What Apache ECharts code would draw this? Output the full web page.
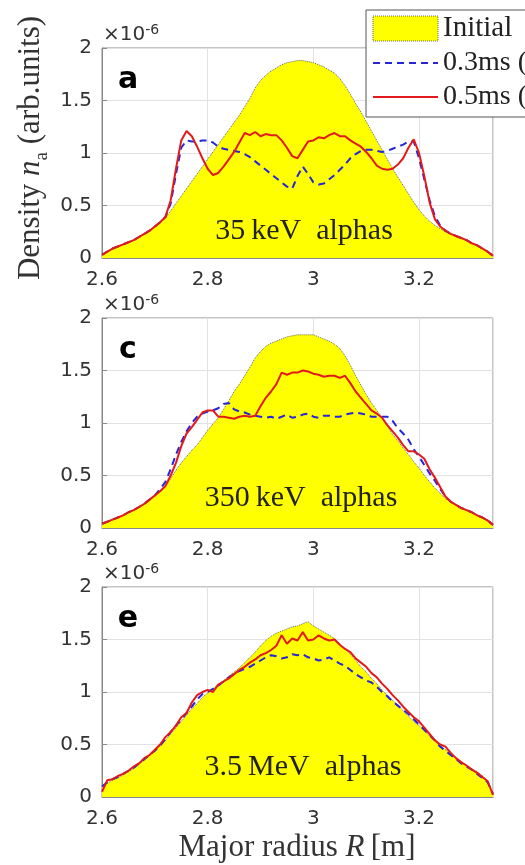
<!DOCTYPE html>
<html>
<head>
<meta charset="utf-8">
<script src="https://cdn.jsdelivr.net/npm/echarts@6/dist/echarts.min.js"></script>
<style>
  html, body { margin: 0; padding: 0; background: #fff; }
  #chart { width: 525px; height: 865px; }
</style>
</head>
<body>
<div id="chart"></div>
<script>
// major radius grid (m)
const R = [2.60, 2.61, 2.62, 2.63, 2.64, 2.65, 2.66, 2.67, 2.68, 2.69, 2.70, 2.71, 2.72,
  2.73, 2.74, 2.75, 2.76, 2.77, 2.78, 2.79, 2.80, 2.81, 2.82,
  2.83, 2.84, 2.85, 2.86, 2.87, 2.88, 2.89, 2.90, 2.91, 2.92,
  2.93, 2.94, 2.95, 2.96, 2.97, 2.98, 2.99, 3.00, 3.01, 3.02,
  3.03, 3.04, 3.05, 3.06, 3.07, 3.08, 3.09, 3.10, 3.11, 3.12,
  3.13, 3.14, 3.15, 3.16, 3.17, 3.18, 3.19, 3.20, 3.21, 3.22,
  3.23, 3.24, 3.25, 3.26, 3.27, 3.28, 3.29, 3.30, 3.31, 3.32, 3.33, 3.34]

// densities in units of 1e-6
// panel a : 35 keV
const initA = [0.03, 0.06, 0.09, 0.11, 0.13, 0.15, 0.17, 0.20, 0.23, 0.26, 0.30, 0.34, 0.38,
  0.45, 0.52, 0.59, 0.66, 0.73, 0.80, 0.87, 0.94, 1.01, 1.08,
  1.15, 1.22, 1.29, 1.36, 1.44, 1.52, 1.62, 1.69, 1.74, 1.78,
  1.81, 1.84, 1.86, 1.87, 1.88, 1.88, 1.87, 1.86, 1.84, 1.82,
  1.79, 1.76, 1.71, 1.64, 1.56, 1.47, 1.39, 1.30, 1.21, 1.12,
  1.03, 0.94, 0.85, 0.77, 0.69, 0.61, 0.53, 0.46, 0.40, 0.35,
  0.31, 0.28, 0.25, 0.23, 0.21, 0.19, 0.17, 0.14, 0.12, 0.09, 0.06, 0.03]
const t03A = [0.03, 0.06, 0.09, 0.11, 0.13, 0.15, 0.17, 0.20, 0.23, 0.26, 0.30, 0.34, 0.39,
  0.52, 0.80, 1.05, 1.12, 1.11, 1.11, 1.12, 1.12, 1.10, 1.06,
  1.04, 1.03, 1.02, 1.01, 0.99, 0.96, 0.92, 0.88, 0.84, 0.80,
  0.76, 0.72, 0.68, 0.66, 0.78, 0.87, 0.80, 0.72, 0.70, 0.71,
  0.75, 0.79, 0.84, 0.89, 0.95, 0.99, 1.02, 1.03, 1.03, 1.02,
  1.01, 1.02, 1.04, 1.06, 1.08, 1.11, 1.11, 0.95, 0.75, 0.55,
  0.40, 0.31, 0.26, 0.23, 0.21, 0.19, 0.17, 0.14, 0.12, 0.09, 0.06, 0.02]
const t05A = [0.03, 0.06, 0.09, 0.11, 0.13, 0.15, 0.17, 0.20, 0.23, 0.26, 0.30, 0.34, 0.39,
  0.55, 0.85, 1.12, 1.21, 1.16, 1.06, 0.95, 0.85, 0.79, 0.81,
  0.87, 0.94, 1.01, 1.10, 1.19, 1.17, 1.20, 1.16, 1.18, 1.17,
  1.17, 1.12, 1.05, 0.97, 0.95, 1.03, 1.11, 1.12, 1.15, 1.14,
  1.17, 1.19, 1.16, 1.16, 1.12, 1.09, 1.06, 1.01, 0.95, 0.88,
  0.85, 0.84, 0.85, 0.89, 0.95, 1.05, 1.13, 1.00, 0.78, 0.53,
  0.37, 0.30, 0.26, 0.23, 0.21, 0.19, 0.17, 0.14, 0.12, 0.09, 0.06, 0.02]

// panel c : 350 keV
const initC = [0.04, 0.06, 0.08, 0.10, 0.12, 0.15, 0.17, 0.20, 0.23, 0.27, 0.31, 0.35, 0.40,
  0.47, 0.55, 0.62, 0.68, 0.74, 0.79, 0.86, 0.93, 0.99, 1.05,
  1.13, 1.21, 1.30, 1.37, 1.45, 1.53, 1.62, 1.68, 1.73, 1.76,
  1.78, 1.80, 1.82, 1.83, 1.84, 1.84, 1.84, 1.84, 1.82, 1.80,
  1.78, 1.75, 1.71, 1.64, 1.55, 1.45, 1.36, 1.27, 1.19, 1.12,
  1.05, 0.97, 0.89, 0.83, 0.76, 0.70, 0.63, 0.57, 0.50, 0.44,
  0.38, 0.33, 0.28, 0.25, 0.22, 0.19, 0.17, 0.15, 0.12, 0.10, 0.08, 0.04]
const t03C = [0.04, 0.06, 0.08, 0.10, 0.12, 0.15, 0.17, 0.20, 0.23, 0.27, 0.31, 0.37, 0.44,
  0.56, 0.70, 0.82, 0.92, 1.00, 1.06, 1.09, 1.11, 1.12, 1.14,
  1.18, 1.19, 1.13, 1.11, 1.10, 1.08, 1.07, 1.06, 1.05, 1.06,
  1.04, 1.06, 1.08, 1.05, 1.06, 1.08, 1.09, 1.06, 1.05, 1.07,
  1.07, 1.06, 1.06, 1.08, 1.09, 1.10, 1.09, 1.08, 1.06, 1.06,
  1.06, 1.06, 1.02, 0.95, 0.90, 0.84, 0.75, 0.68, 0.60, 0.52,
  0.45, 0.37, 0.30, 0.25, 0.22, 0.19, 0.17, 0.15, 0.12, 0.10, 0.07, 0.03]
const t05C = [0.04, 0.06, 0.08, 0.10, 0.12, 0.15, 0.17, 0.20, 0.23, 0.27, 0.31, 0.35, 0.40,
  0.50, 0.62, 0.78, 0.90, 0.96, 1.03, 1.10, 1.12, 1.12, 1.06,
  1.06, 1.05, 1.04, 1.06, 1.07, 1.06, 1.07, 1.16, 1.24, 1.30,
  1.37, 1.48, 1.46, 1.48, 1.48, 1.50, 1.49, 1.47, 1.46, 1.44,
  1.45, 1.45, 1.43, 1.45, 1.38, 1.30, 1.24, 1.18, 1.12, 1.09,
  1.05, 0.98, 0.92, 0.86, 0.79, 0.73, 0.73, 0.70, 0.66, 0.56,
  0.48, 0.39, 0.30, 0.25, 0.22, 0.19, 0.17, 0.15, 0.12, 0.10, 0.07, 0.03]

// panel e : 3.5 MeV
const initE = [0.10, 0.13, 0.16, 0.18, 0.21, 0.24, 0.27, 0.31, 0.35, 0.40, 0.44, 0.49, 0.54,
  0.60, 0.66, 0.72, 0.78, 0.84, 0.89, 0.95, 0.99, 1.03, 1.07,
  1.11, 1.15, 1.19, 1.23, 1.28, 1.33, 1.38, 1.44, 1.49, 1.53,
  1.56, 1.58, 1.60, 1.62, 1.63, 1.65, 1.67, 1.63, 1.60, 1.57,
  1.54, 1.51, 1.46, 1.41, 1.36, 1.30, 1.24, 1.19, 1.13, 1.08,
  1.02, 0.97, 0.92, 0.87, 0.82, 0.77, 0.72, 0.68, 0.63, 0.58,
  0.53, 0.49, 0.45, 0.41, 0.37, 0.34, 0.30, 0.27, 0.24, 0.20, 0.15, 0.02]
const t03E = [0.10, 0.14, 0.17, 0.19, 0.22, 0.25, 0.28, 0.32, 0.36, 0.40, 0.44, 0.49, 0.55,
  0.62, 0.68, 0.74, 0.80, 0.86, 0.93, 0.98, 1.00, 1.03, 1.06,
  1.10, 1.14, 1.17, 1.20, 1.22, 1.24, 1.27, 1.30, 1.33, 1.35,
  1.34, 1.32, 1.33, 1.36, 1.35, 1.36, 1.33, 1.32, 1.30, 1.31,
  1.33, 1.30, 1.27, 1.25, 1.21, 1.17, 1.14, 1.11, 1.09, 1.05,
  1.00, 0.96, 0.91, 0.87, 0.83, 0.79, 0.74, 0.69, 0.64, 0.59,
  0.54, 0.48, 0.44, 0.40, 0.36, 0.32, 0.29, 0.26, 0.22, 0.18, 0.14, 0.03]
const t05E = [0.05, 0.16, 0.17, 0.20, 0.22, 0.25, 0.29, 0.32, 0.37, 0.40, 0.45, 0.50, 0.57,
  0.62, 0.68, 0.76, 0.80, 0.90, 0.97, 1.00, 1.02, 1.00, 1.07,
  1.10, 1.13, 1.17, 1.21, 1.24, 1.28, 1.31, 1.35, 1.37, 1.40,
  1.44, 1.54, 1.46, 1.51, 1.49, 1.57, 1.49, 1.50, 1.54, 1.51,
  1.49, 1.50, 1.45, 1.41, 1.38, 1.32, 1.28, 1.24, 1.18, 1.14,
  1.08, 1.03, 0.97, 0.92, 0.86, 0.81, 0.76, 0.72, 0.66, 0.60,
  0.54, 0.50, 0.48, 0.42, 0.37, 0.33, 0.30, 0.26, 0.23, 0.19, 0.15, 0.02]

const panelLetters = ['a', 'c', 'e']
const panelNotes = ['35\u2009keV  alphas', '350\u2009keV  alphas', '3.5\u2009MeV  alphas']
const yTicks = [0, 0.5, 1, 1.5, 2]
const legendNames = ['Initial', '0.3ms (', '0.5ms (']

const panels = [[initA, t03A, t05A], [initC, t03C, t05C], [initE, t03E, t05E]]
const tops = [48, 318, 587]
const serif = 'Liberation Serif'
const sans = 'DejaVu Sans'
const axisGray = '#8a8a8a'

function pairs(v) {
  return R.map((r, i) => [r, v[i]])
}

const chart = echarts.init(document.getElementById('chart'))

const grid = tops.map(top => ({
  left: 102, right: 32, top: top, height: 210,
  show: true, borderColor: axisGray, borderWidth: 1, backgroundColor: 'rgba(0,0,0,0)'
}))

const xAxis = tops.map((t, i) => ({
  type: 'value', gridIndex: i, min: 2.6, max: 3.34, interval: 0.2,
  axisLine: { show: true, lineStyle: { color: axisGray } },
  axisTick: { inside: true, length: 5, lineStyle: { color: axisGray } },
  axisLabel: { showMaxLabel: false, fontSize: 20, color: '#333', margin: 12, fontFamily: sans },
  splitLine: { show: true, lineStyle: { color: '#e2e2e2' } }
}))

const yAxis = tops.map((t, i) => ({
  type: 'value', gridIndex: i, min: yTicks[0], max: yTicks[yTicks.length - 1], interval: 0.5,
  axisLine: { show: true, lineStyle: { color: axisGray } },
  axisTick: { show: true, inside: true, length: 5, lineStyle: { color: axisGray } },
  axisLabel: { fontSize: 20, color: '#333', margin: 10, fontFamily: sans },
  splitLine: { show: true, lineStyle: { color: '#e2e2e2' } }
}))

const series = []
panels.forEach((p, i) => {
  series.push({
    name: legendNames[0], type: 'line', xAxisIndex: i, yAxisIndex: i,
    data: pairs(p[0]), symbol: 'none',
    lineStyle: { color: '#666', width: 1, type: 'dotted' },
    itemStyle: { color: '#ffff00' },
    areaStyle: { color: '#ffff00', opacity: 1 }
  })
  series.push({
    name: legendNames[1], type: 'line', xAxisIndex: i, yAxisIndex: i,
    data: pairs(p[1]), symbol: 'none',
    lineStyle: { color: '#2626d8', width: 2, type: [7, 5] },
    itemStyle: { color: '#2626d8' }
  })
  series.push({
    name: legendNames[2], type: 'line', xAxisIndex: i, yAxisIndex: i,
    data: pairs(p[2]), symbol: 'none',
    lineStyle: { color: '#e31a1c', width: 2 },
    itemStyle: { color: '#e31a1c' }
  })
})

const graphic = []
tops.forEach((top, i) => {
  graphic.push({
    type: 'text', x: 103, y: top - 13, z: 100,
    style: {
      text: '{m|×10}{s|-6}', verticalAlign: 'middle',
      rich: {
        m: { fontSize: 20, fontFamily: sans, fill: '#333', lineHeight: 24 },
        s: { fontSize: 14, fontFamily: sans, fill: '#333', verticalAlign: 'top', lineHeight: 14 }
      }
    }
  })
  graphic.push({
    type: 'text', x: 128, y: top + 32, z: 100,
    style: { text: panelLetters[i], font: 'bold 30px "DejaVu Sans"', fill: '#000', align: 'center', verticalAlign: 'middle' }
  })
})
const noteY = [231, 498, 767]
const noteX = [304, 301, 303]
noteY.forEach((y, i) => {
  graphic.push({
    type: 'text', x: noteX[i], y: y, z: 100,
    style: { text: panelNotes[i], font: '30px "Liberation Serif"', fill: '#222', align: 'center', verticalAlign: 'middle' }
  })
})
// y axis title, rotated
graphic.push({
  type: 'text', x: 31, y: 148, rotation: Math.PI / 2, z: 100,
  style: {
    text: '{t|Density }{i|n}{s|a}{t| (arb.units)}', align: 'center', verticalAlign: 'middle',
    rich: {
      t: { fontSize: 31, fontFamily: serif, fill: '#333', lineHeight: 42, verticalAlign: 'middle' },
      i: { fontSize: 31, fontFamily: serif, fontStyle: 'italic', fill: '#333', lineHeight: 42, verticalAlign: 'middle' },
      s: { fontSize: 19, fontFamily: serif, fill: '#333', lineHeight: 19, verticalAlign: 'bottom' }
    }
  }
})
graphic.push({
  type: 'text', x: 297, y: 848, z: 100,
  style: {
    text: '{t|Major radius }{i|R}{t|\u2009[m]}', align: 'center', verticalAlign: 'middle',
    rich: {
      t: { fontSize: 31, fontFamily: serif, fill: '#333' },
      i: { fontSize: 31, fontFamily: serif, fontStyle: 'italic', fill: '#333' }
    }
  }
})

const hiddenMark = { color: 'rgba(0,0,0,0)', borderWidth: 0 }
const msText = { fontFamily: serif, fontSize: 28, color: '#222', width: 200 }

const option = {
  animation: false,
  backgroundColor: '#fff',
  grid: grid,
  xAxis: xAxis,
  yAxis: yAxis,
  legend: {
    left: 366, top: 10, orient: 'vertical',
    padding: [4, 6, 6, 6],
    itemWidth: 65, itemHeight: 25, itemGap: 6,
    backgroundColor: '#fff', borderColor: '#555', borderWidth: 1,
    textStyle: { fontFamily: serif, fontSize: 29, color: '#222', width: 200 },
    data: [
      { name: legendNames[0], icon: 'rect', itemStyle: { color: '#ffff00', borderColor: '#666', borderWidth: 1, borderType: 'dotted' } },
      { name: legendNames[1], itemStyle: hiddenMark, textStyle: msText },
      { name: legendNames[2], itemStyle: hiddenMark, textStyle: msText }
    ]
  },
  graphic: graphic,
  series: series
}
chart.setOption(option)
</script>
</body>
</html>
